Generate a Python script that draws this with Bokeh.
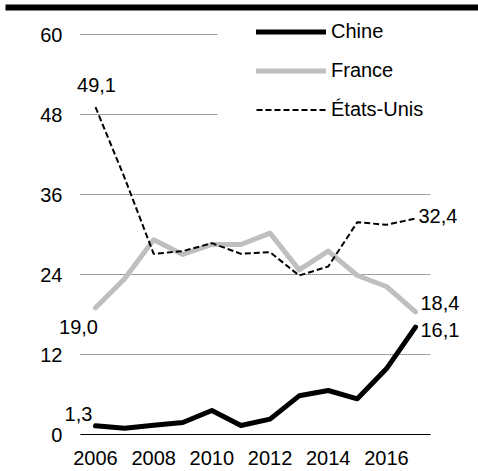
from bokeh.plotting import figure
from bokeh.models import Legend, LegendItem, Label, BoxAnnotation, FixedTicker, Range1d
from bokeh.embed import file_html
from bokeh.resources import INLINE

years = list(range(2006, 2018))
chine = [1.3, 0.95, 1.4, 1.8, 3.6, 1.35, 2.3, 5.8, 6.6, 5.35, 9.85, 16.1]
france = [19.0, 23.35, 29.2, 27.0, 28.5, 28.5, 30.2, 24.7, 27.5, 23.85, 22.2, 18.4]
usa = [49.1, 38.5, 27.1, 27.5, 28.7, 27.1, 27.35, 23.85, 25.2, 31.85, 31.45, 32.4]
series_names = ["Chine", "France", "États-Unis"]
x_ticks = [2006, 2008, 2010, 2012, 2014, 2016]
y_ticks = [0, 12, 24, 36, 48, 60]

FONT = "Liberation Sans"
FS = "20px"
PAD = 0.52  # half-category padding of the plotting area


def fmt(v):
    return f"{v:.1f}".replace(".", ",")


p = figure(width=478, height=471,
           x_range=Range1d(2002.734, 2019.166), y_range=Range1d(-1.5, 65.1),
           output_backend="svg", toolbar_location=None, title=None,
           y_axis_location=None,
           min_border_left=0, min_border_right=0,
           min_border_top=0, min_border_bottom=27)
p.outline_line_color = None
p.background_fill_color = "white"
p.border_fill_color = "white"

# x axis (labels only)
p.xaxis.ticker = FixedTicker(ticks=x_ticks)
p.xaxis.major_tick_line_color = None
p.xaxis.minor_tick_line_color = None
p.xaxis.axis_line_color = None
p.xaxis.major_label_text_font = FONT
p.xaxis.major_label_text_font_size = FS
p.xaxis.major_label_text_color = "black"
p.xaxis.major_label_standoff = 0

p.xgrid.grid_line_color = None
p.ygrid.grid_line_color = None

x_lo = years[0] - PAD
x_hi = years[-1] + PAD
grid_vals = y_ticks[1:]

# gridlines
p.segment(x0=[x_lo] * len(grid_vals), y0=grid_vals,
          x1=[x_hi] * len(grid_vals), y1=grid_vals,
          line_color="#444444", line_width=1, line_dash="1 1", level="underlay")
# base line
p.segment(x0=[x_lo], y0=[y_ticks[0]], x1=[x_hi], y1=[y_ticks[0]],
          line_color="black", line_width=1, level="underlay")
# y tick labels
p.text(x=[x_lo] * len(y_ticks), y=y_ticks, text=[str(t) for t in y_ticks],
       x_offset=-18, text_align="right", text_baseline="middle",
       text_font={"value": FONT}, text_font_size={"value": FS}, text_color="black")

# series
r_fr = p.line(years, france, line_color="#bfbfbf", line_width=5,
              line_cap="round", line_join="round")
r_us = p.line(years, usa, line_color="black", line_width=2,
              line_dash="6 3")
r_cn = p.line(years, chine, line_color="black", line_width=5,
              line_cap="round", line_join="round")

# top rule
p.add_layout(BoxAnnotation(left=5, right=478, top=4, bottom=10,
                           left_units="canvas", right_units="canvas",
                           top_units="canvas", bottom_units="canvas",
                           fill_color="black", fill_alpha=1, line_alpha=0))
# legend background mask
p.add_layout(BoxAnnotation(left=217, right=432, top=14, bottom=140,
                           left_units="canvas", right_units="canvas",
                           top_units="canvas", bottom_units="canvas",
                           fill_color="white", fill_alpha=1, line_alpha=0))

legend = Legend(items=[LegendItem(label=series_names[0], renderers=[r_cn]),
                       LegendItem(label=series_names[1], renderers=[r_fr]),
                       LegendItem(label=series_names[2], renderers=[r_us])],
                location=(256, 315), padding=0, margin=0, spacing=0,
                glyph_width=70, glyph_height=39, label_standoff=5,
                label_text_font=FONT, label_text_font_size=FS,
                label_text_color="black",
                background_fill_alpha=0, border_line_color=None)
p.add_layout(legend)

# data labels
labels = [
    (years[0], usa[0], "center", 1, 22),
    (years[0], france[0], "center", -17, -19),
    (years[0], chine[0], "center", -17, 12),
    (years[-1], usa[-1], "left", 3, 3),
    (years[-1], france[-1], "left", 5, 9),
    (years[-1], chine[-1], "left", 5, -3),
]
for x, y, align, dx, dy in labels:
    p.add_layout(Label(x=x, y=y, text=fmt(y), x_offset=dx, y_offset=dy,
                       text_align=align, text_baseline="middle",
                       text_font=FONT, text_font_size=FS, text_color="black"))

open("out.html", "w").write(file_html(p, INLINE))
